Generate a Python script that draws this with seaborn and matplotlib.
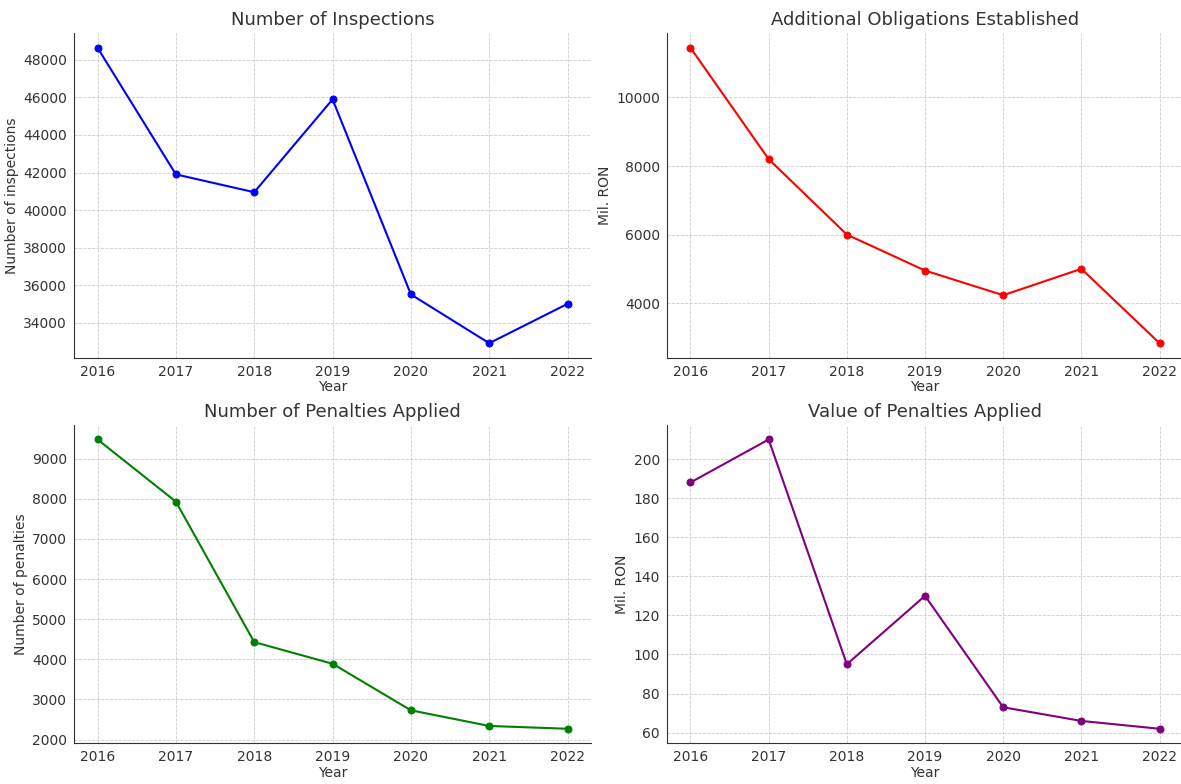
import matplotlib
matplotlib.use("Agg")
import matplotlib.pyplot as plt
import seaborn as sns
import pandas as pd

years = [2016, 2017, 2018, 2019, 2020, 2021, 2022]
inspections = [48650, 41900, 40950, 45900, 35500, 32900, 35000]
obligations = [11450, 8200, 6000, 4950, 4230, 5000, 2830]
penalties_count = [9480, 7930, 4430, 3890, 2730, 2340, 2270]
penalties_value = [188, 210, 95, 130, 73, 66, 62]

panels = [
    ("Number of Inspections", inspections, "blue", "Number of inspections"),
    ("Additional Obligations Established", obligations, "red", "Mil. RON"),
    ("Number of Penalties Applied", penalties_count, "green", "Number of penalties"),
    ("Value of Penalties Applied", penalties_value, "purple", "Mil. RON"),
]

sns.set_style("white")
plt.rcParams['font.family'] = ['DejaVu Sans']

fig, axes = plt.subplots(2, 2, figsize=(11.81, 7.84), dpi=100)
positions = [
    [0.0627, 0.5434, 0.4378, 0.4145],
    [0.5648, 0.5434, 0.4369, 0.4145],
    [0.0627, 0.0520, 0.4378, 0.4059],
    [0.5648, 0.0520, 0.4369, 0.4059],
]
for ax, pos, (title, vals, color, ylabel) in zip(axes.flat, positions, panels):
    df = pd.DataFrame({"Year": years, "v": vals})
    sns.lineplot(data=df, x="Year", y="v", ax=ax, color=color, marker="o",
                 markersize=5, markeredgecolor=color, linewidth=1.5)
    ax.set_title(title, fontsize=13, color="#333333")
    ax.set_xlabel("Year", fontsize=10, color="#333333", labelpad=1)
    ax.set_ylabel(ylabel, fontsize=10, color="#333333", labelpad=3)
    ax.set_xticks(years)
    ax.grid(True, linestyle="--", linewidth=0.6, color="#cccccc")
    ax.tick_params(direction="out", length=3, width=0.8, labelsize=10, pad=2,
                   colors="#333333", color="#999999")
    for s in ["top", "right"]:
        ax.spines[s].set_visible(False)
    for s in ["left", "bottom"]:
        ax.spines[s].set_color("#333333")
    ax.set_position(pos)

fig.savefig("out.png", dpi=100)
